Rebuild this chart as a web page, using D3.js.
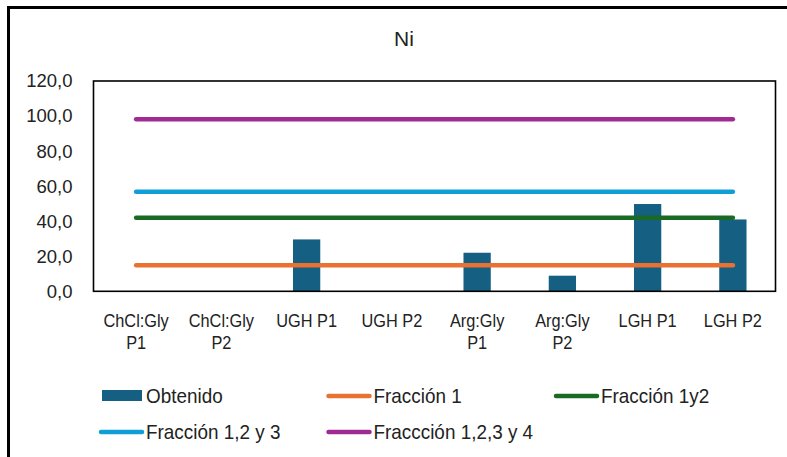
<!DOCTYPE html>
<html>
<head>
<meta charset="utf-8">
<script src="https://cdn.jsdelivr.net/npm/d3@7/dist/d3.min.js"></script>
<style>
    html, body { margin: 0; padding: 0; background: #fff; }
    svg { display: block; }
    text { font-family: "Liberation Sans", Arial, sans-serif; fill: #222; }
</style>
</head>
<body>
<div id="chart"></div>
<script>
// categories and series
var categories = [
    ['ChCl:Gly', 'P1'], ['ChCl:Gly', 'P2'], ['UGH P1'], ['UGH P2'],
    ['Arg:Gly', 'P1'], ['Arg:Gly', 'P2'], ['LGH P1'], ['LGH P2']
];
var obtenido = [0, 0, 29.6, 0, 22.0, 8.9, 49.8, 41.0];
var fraccion1 = [14.8, 14.8, 14.8, 14.8, 14.8, 14.8, 14.8, 14.8];
var fraccion12 = [42.0, 42.0, 42.0, 42.0, 42.0, 42.0, 42.0, 42.0];
var fraccion123 = [56.8, 56.8, 56.8, 56.8, 56.8, 56.8, 56.8, 56.8];
var fraccion1234 = [98.2, 98.2, 98.2, 98.2, 98.2, 98.2, 98.2, 98.2];
var yTicks = [0, 20, 40, 60, 80, 100, 120];

var lineSeries = [
    { name: 'Fracción 1', values: fraccion1, color: '#E97132' },
    { name: 'Fracción 1y2', values: fraccion12, color: '#196B24' },
    { name: 'Fracción 1,2 y 3', values: fraccion123, color: '#0F9ED5' },
    { name: 'Fraccción 1,2,3 y 4', values: fraccion1234, color: '#A02B93' }
];
var barColor = '#156082';

var view = { width: 787, height: 457 };
var plot = { left: 93.5, right: 775.5, top: 81, bottom: 291.3 };

var svg = d3.select('#chart')
    .append('svg')
    .attr('width', view.width)
    .attr('height', view.height);

// outer chart frame (cropped at right / bottom like the source)
svg.append('rect')
    .attr('x', 8.5).attr('y', 7.5)
    .attr('width', 820).attr('height', 500)
    .attr('fill', 'none')
    .attr('stroke', '#000')
    .attr('stroke-width', 3);

svg.append('text')
    .attr('x', 404).attr('y', 46)
    .attr('text-anchor', 'middle')
    .style('font-size', '21px')
    .text('Ni');

var x = d3.scaleBand()
    .domain(d3.range(categories.length))
    .range([plot.left, plot.right]);

var y = d3.scaleLinear()
    .domain([0, 120])
    .range([plot.bottom, plot.top]);

var locale = d3.formatLocale({ decimal: ',', thousands: '.', grouping: [3], currency: ['', '€'] });
var fmt = locale.format('.1f');

// y axis labels
var yAxis = svg.append('g')
    .attr('transform', 'translate(' + plot.left + ',0)')
    .call(d3.axisLeft(y).tickValues(yTicks).tickFormat(fmt).tickSize(0).tickPadding(21));
yAxis.select('.domain').remove();
yAxis.selectAll('text')
    .style('font-family', '"Liberation Sans", Arial, sans-serif')
    .style('font-size', '18.5px')
    .style('fill', '#222');

// bars
var barW = x.bandwidth() * 0.32;
svg.append('g').selectAll('rect')
    .data(obtenido)
    .enter().append('rect')
    .attr('x', function(d, i) { return x(i) + (x.bandwidth() - barW) / 2; })
    .attr('y', function(d) { return y(d); })
    .attr('width', barW)
    .attr('height', function(d) { return y(0) - y(d); })
    .attr('fill', barColor);

// plot area box
svg.append('rect')
    .attr('x', plot.left).attr('y', plot.top)
    .attr('width', plot.right - plot.left)
    .attr('height', plot.bottom - plot.top)
    .attr('fill', 'none')
    .attr('stroke', '#000')
    .attr('stroke-width', 1.6);

// lines
var line = d3.line()
    .x(function(d, i) { return x(i) + x.bandwidth() / 2; })
    .y(function(d) { return y(d); });

svg.append('g').selectAll('path')
    .data(lineSeries)
    .enter().append('path')
    .attr('d', function(s) { return line(s.values); })
    .attr('fill', 'none')
    .attr('stroke', function(s) { return s.color; })
    .attr('stroke-width', 4.5)
    .attr('stroke-linecap', 'round');

// category labels (narrow face, like the source)
var catLabels = svg.append('g').selectAll('text')
    .data(categories)
    .enter().append('text')
    .attr('text-anchor', 'middle')
    .style('font-size', '19px')
    .attr('transform', function(d, i) {
        return 'translate(' + (x(i) + x.bandwidth() / 2) + ',327) scale(0.86,1)';
    });
catLabels.selectAll('tspan')
    .data(function(d) { return d; })
    .enter().append('tspan')
    .attr('x', 0)
    .attr('dy', function(d, j) { return j === 0 ? 0 : 22; })
    .text(function(d) { return d; });

// legend
var legendItems = [{ name: 'Obtenido', bar: true, color: barColor }].concat(lineSeries);
var legend = svg.append('g').selectAll('g')
    .data(legendItems)
    .enter().append('g')
    .attr('transform', function(d, i) {
        var col = i % 3, row = Math.floor(i / 3);
        return 'translate(' + (101 + col * 227.5) + ',' + (396 + row * 36) + ')';
    });

legend.each(function(d) {
    var g = d3.select(this);
    if (d.bar) {
        g.append('rect')
            .attr('x', 1).attr('y', -6)
            .attr('width', 40).attr('height', 11)
            .attr('fill', d.color);
    } else {
        g.append('line')
            .attr('x1', 0).attr('x2', 41)
            .attr('y1', 0).attr('y2', 0)
            .attr('stroke', d.color)
            .attr('stroke-width', 4.5)
            .attr('stroke-linecap', 'round');
    }
    g.append('text')
        .attr('transform', 'translate(45,7) scale(0.9,1)')
        .style('font-size', '21px')
        .text(d.name);
});
</script>
</body>
</html>
